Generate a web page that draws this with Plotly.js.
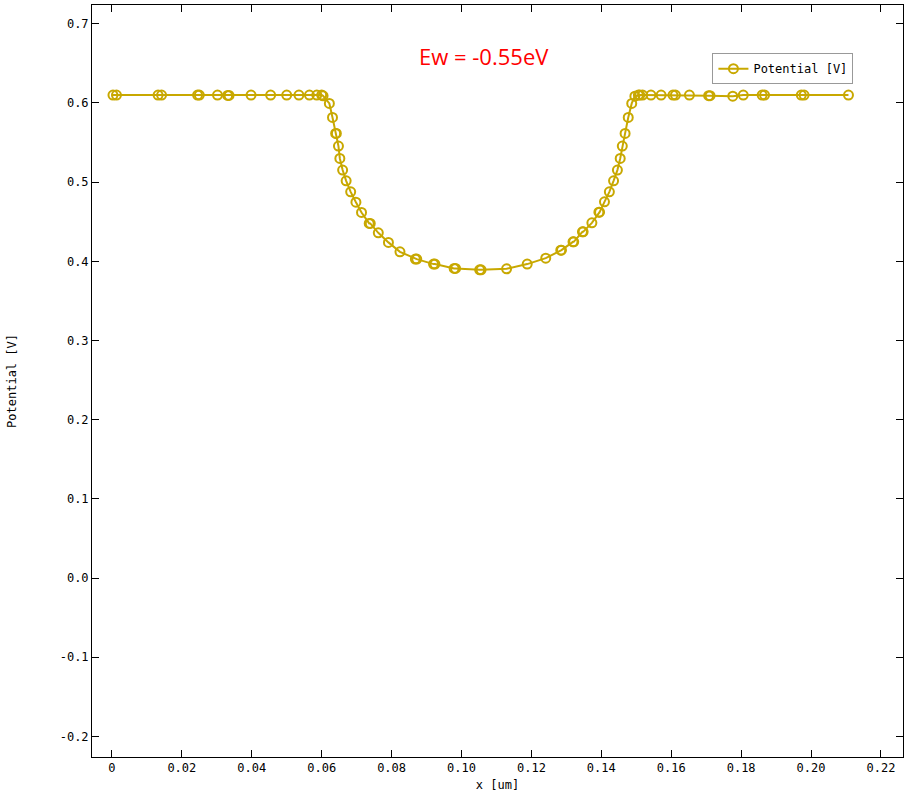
<!DOCTYPE html>
<html>
<head>
<meta charset="utf-8">
<script src="https://cdn.plot.ly/plotly-3.0.1.min.js"></script>
<style>html,body{margin:0;padding:0;background:#fff;}#chart{width:909px;height:796px;}</style>
</head>
<body>
<div id="chart"></div>
<script>
const xValues = [0.0003,0.0013,0.0132,0.0142,0.0245,0.0250,0.0302,0.0331,0.0335,0.0398,0.0454,0.0500,0.0535,0.0565,0.0586,0.0600,0.0604,
  0.0622,0.0631,0.0640,0.0642,0.0648,0.0652,0.0660,0.0670,0.0683,0.0698,0.0714,0.0736,0.0739,0.0762,0.0791,0.0824,0.0868,0.0872,
  0.0920,0.0924,0.0979,0.0983,0.1052,0.1056,0.1129,0.1188,0.1241,0.1284,0.1286,0.1319,0.1321,0.1346,0.1348,0.1373,0.1393,0.1395,
  0.1409,0.1423,0.1435,0.1446,0.1454,0.1460,0.1468,0.1477,0.1487,0.1496,0.1506,0.1510,0.1518,0.1542,0.1571,0.1605,0.1612,0.1652,
  0.1707,0.1711,0.1776,0.1806,0.1860,0.1867,0.1972,0.1980,0.2107];
const yValues = [0.610,0.610,0.610,0.610,0.610,0.610,0.610,0.6095,0.6095,0.610,0.610,0.610,0.610,0.610,0.610,0.610,0.609,
  0.5994,0.5817,0.5615,0.5615,0.5455,0.5299,0.5152,0.5016,0.4877,0.4747,0.4617,0.4479,0.4479,0.4360,0.4239,0.4120,0.4028,0.4028,
  0.3965,0.3965,0.3910,0.3910,0.3893,0.3893,0.3905,0.3965,0.4040,0.4141,0.4141,0.4246,0.4246,0.4372,0.4372,0.4486,0.4621,0.4621,
  0.4751,0.4877,0.5016,0.5152,0.5299,0.5455,0.5615,0.5817,0.5994,0.6085,0.610,0.610,0.610,0.610,0.610,0.610,0.610,0.610,
  0.6092,0.6092,0.6085,0.610,0.610,0.610,0.610,0.610,0.610];
const seriesName = "Potential [V]";
const xTickVals = [0,0.02,0.04,0.06,0.08,0.10,0.12,0.14,0.16,0.18,0.20,0.22];
const xTickText = ["0","0.02","0.04","0.06","0.08","0.10","0.12","0.14","0.16","0.18","0.20","0.22"];
const yTickVals = [0.7,0.6,0.5,0.4,0.3,0.2,0.1,0.0,-0.1,-0.2];
const yTickText = ["0.7","0.6","0.5","0.4","0.3","0.2","0.1","0.0","-0.1","-0.2"];
const titleText = "Ew = -0.55eV";

const color = "#c8a800";
const mono = "DejaVu Sans Mono, monospace";
const trace = {
  x: xValues, y: yValues, name: seriesName, type: "scatter", mode: "lines+markers",
  line: {color: color, width: 2},
  marker: {symbol: "circle-open", size: 9, color: color, line: {width: 2, color: color}}
};
const axisCommon = {
  showgrid: false, zeroline: false, showline: true, linecolor: "#000", linewidth: 1,
  mirror: "ticks", ticks: "inside", ticklen: 7, tickcolor: "#000",
  tickfont: {family: mono, size: 12, color: "#000"}, tickmode: "array"
};
const layout = {
  width: 909, height: 796,
  margin: {l: 92, r: 6, t: 5, b: 39},
  paper_bgcolor: "#fff", plot_bgcolor: "#fff",
  showlegend: true,
  legend: {x: 0.765, y: 0.936, xanchor: "left", yanchor: "top", bordercolor: "#999", borderwidth: 1,
    bgcolor: "#fff", font: {family: mono, size: 12, color: "#000"}},
  xaxis: Object.assign({}, axisCommon, {range: [-0.0057, 0.2263], tickvals: xTickVals, ticktext: xTickText,
    title: {text: "x [um]", font: {family: mono, size: 12, color: "#000"}, standoff: 6}}),
  yaxis: Object.assign({}, axisCommon, {range: [-0.226, 0.7237], tickvals: yTickVals, ticktext: yTickText,
    title: {text: "Potential [V]", font: {family: mono, size: 12, color: "#000"}, standoff: 40}}),
  annotations: [{text: titleText, xref: "paper", yref: "paper", x: 0.483, y: 0.932, xanchor: "center", yanchor: "middle",
    showarrow: false, font: {family: "Open Sans, sans-serif", size: 22, color: "#ff0000"}}]
};
Plotly.newPlot("chart", [trace], layout, {displayModeBar: false, staticPlot: true});
</script>
</body>
</html>
